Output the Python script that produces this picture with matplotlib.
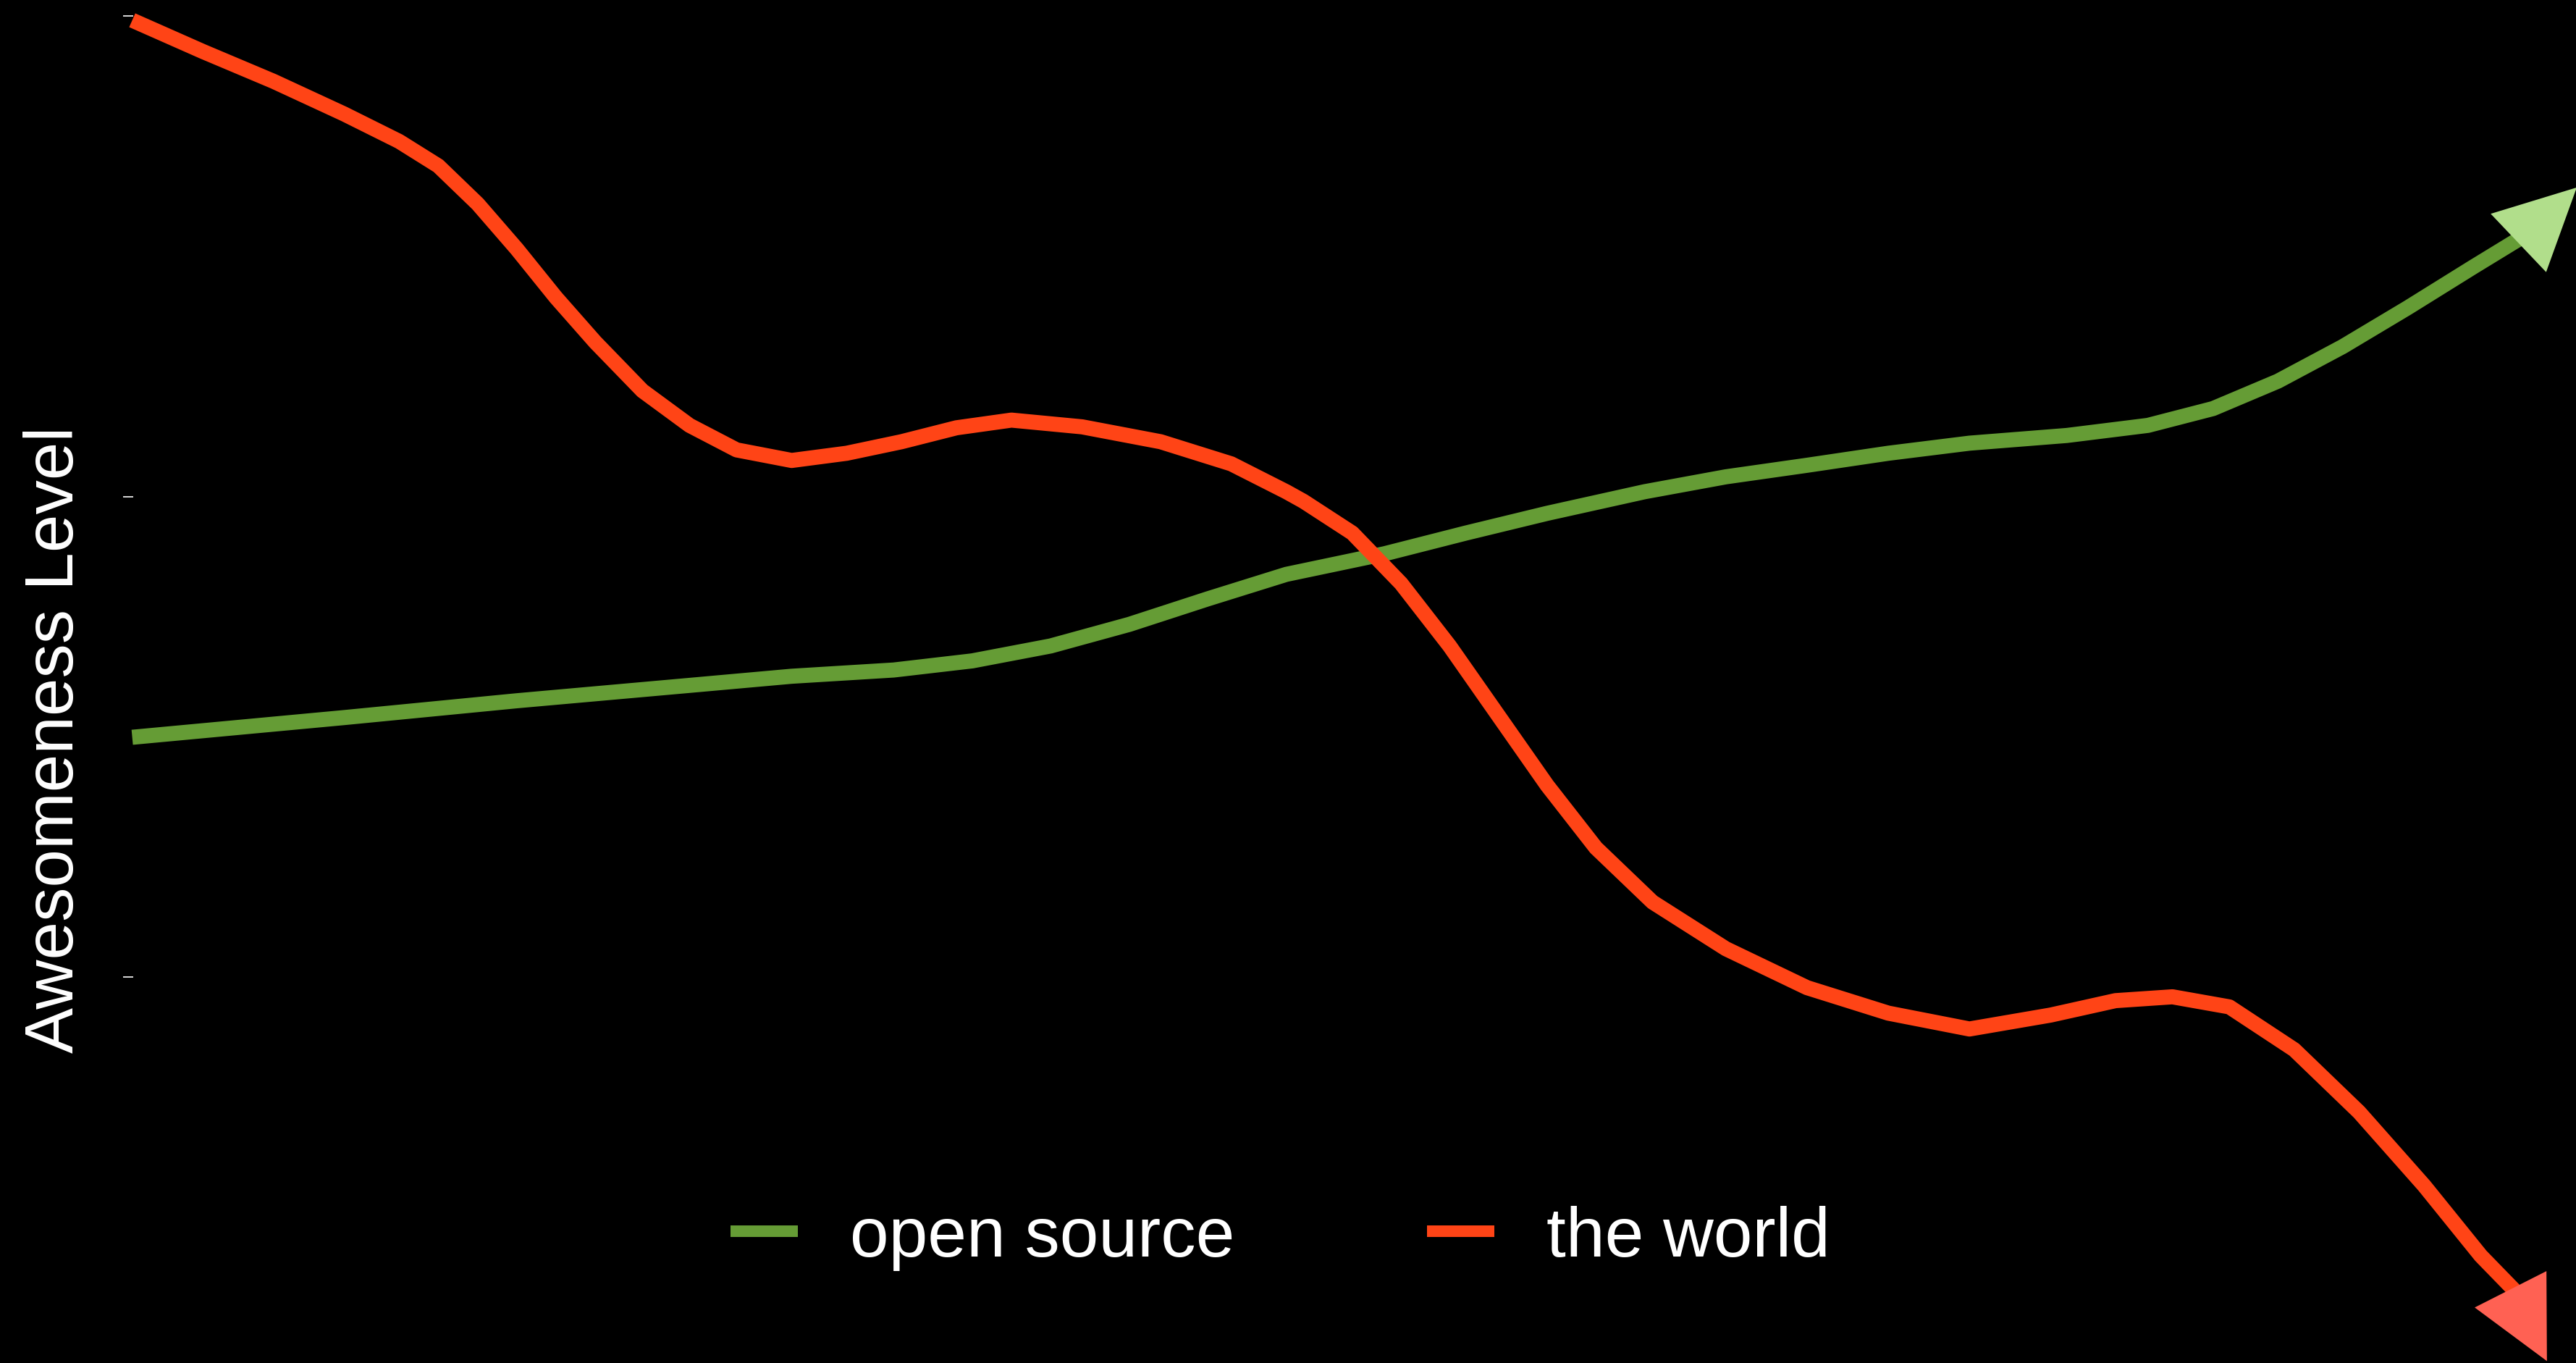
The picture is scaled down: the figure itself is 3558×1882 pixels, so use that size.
import matplotlib
matplotlib.use('Agg')
import matplotlib.pyplot as plt

plt.rcParams['font.family'] = ['Liberation Sans', 'DejaVu Sans']

# data
open_x = [0.017, 0.899, 1.618, 2.337, 2.762, 3.187, 3.514, 3.840, 4.168, 4.494, 4.821,
          5.231, 5.569, 5.907, 6.313, 6.651, 6.989, 7.327, 7.665, 8.070, 8.408, 8.679,
          8.949, 9.219, 9.490, 9.760, 9.963]
open_y = [0.499, 0.540, 0.575, 0.607, 0.626, 0.639, 0.658, 0.689, 0.734, 0.787, 0.838,
          0.881, 0.924, 0.965, 1.010, 1.041, 1.065, 1.090, 1.111, 1.127, 1.148, 1.183,
          1.240, 1.312, 1.393, 1.477, 1.539]

world_x = [0.017, 0.311, 0.605, 0.899, 1.128, 1.291, 1.455, 1.618, 1.781, 1.945, 2.141,
           2.337, 2.533, 2.762, 2.991, 3.219, 3.448, 3.677, 3.971, 4.298, 4.592, 4.821,
           4.893, 5.096, 5.299, 5.501, 5.704, 5.907, 6.110, 6.346, 6.651, 6.989, 7.327,
           7.665, 8.003, 8.273, 8.510, 8.747, 9.017, 9.287, 9.558, 9.794, 9.940]
world_y = [1.991, 1.926, 1.864, 1.796, 1.739, 1.688, 1.609, 1.515, 1.414, 1.321, 1.220,
           1.148, 1.097, 1.075, 1.090, 1.114, 1.143, 1.159, 1.145, 1.114, 1.068, 1.010,
           0.990, 0.924, 0.819, 0.689, 0.544, 0.399, 0.269, 0.156, 0.059, -0.022, -0.075,
           -0.108, -0.079, -0.049, -0.041, -0.062, -0.151, -0.281, -0.434, -0.580, -0.655]

# arrow heads: base centre -> tip
open_head = [(9.949, 1.527), (10.193, 1.643)]
world_head = [(9.918, -0.650), (10.069, -0.799)]

green = '#659c35'
green_light = '#b1de8b'
red = '#ff4416'
red_light = '#ff6153'

fig = plt.figure(figsize=(35.58, 18.83), dpi=100, facecolor='black')
ax = fig.add_axes([177 / 3558, 0, 1 - 177 / 3558, 1 - 23 / 1883])
ax.set_facecolor('black')

ax.plot(open_x, open_y, color=green, lw=15, solid_capstyle='butt', solid_joinstyle='round',
        clip_on=False, label='open source')
ax.plot(world_x, world_y, color=red, lw=15, solid_capstyle='butt', solid_joinstyle='round',
        clip_on=False, label='the world')

# arrow heads
for (bx, by), (tx, ty), c in [(open_head[0], open_head[1], green_light),
                              (world_head[0], world_head[1], red_light)]:
    sx = bx - (tx - bx)
    sy = by - (ty - by)
    ax.annotate('', xy=(tx, ty), xytext=(sx, sy), annotation_clip=False,
                arrowprops=dict(arrowstyle='-|>,head_length=0.4,head_width=0.2',
                                mutation_scale=200, color=c, lw=0,
                                shrinkA=0, shrinkB=0))

ax.set_xlim(0, 10.19)
ax.set_ylim(-0.803, 2.0)
ax.set_xticks([])
ax.set_yticks([0, 1, 2])
ax.set_yticklabels([])
ax.tick_params(axis='y', colors='white', direction='inout', length=10, width=1.2)
for s in ax.spines.values():
    s.set_visible(False)

fig.text(77 / 3558, 1 - 1021 / 1883, 'Awesomeness Level', rotation=90, color='white',
         fontsize=68, ha='center', va='center')

leg = ax.legend(loc='center', bbox_to_anchor=(0.497, 1 - 1710 / 1883),
                bbox_transform=fig.transFigure, ncol=2, frameon=False, fontsize=69.5,
                handlelength=0.96, handletextpad=0.75, columnspacing=2.75, labelcolor='white')
for line in leg.get_lines():
    line.set_linewidth(11.5)

fig.savefig('out.png', dpi=100, facecolor='black')
